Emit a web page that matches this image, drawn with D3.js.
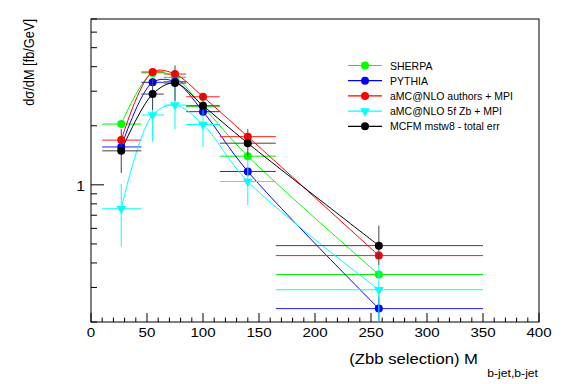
<!DOCTYPE html>
<html><head><meta charset="utf-8">
<script src="https://cdn.jsdelivr.net/npm/d3@7"></script>
<style>body{margin:0;background:#fff}svg{display:block}text{font-family:"Liberation Sans",Arial,Helvetica,sans-serif}</style>
</head><body><svg id="c" width="567" height="384"></svg>
<script>
// ---- data ----
const binCenters = [27, 55, 75, 100, 140, 257];
const binLow     = [10, 45, 65, 85, 115, 165];
const binHigh    = [45, 65, 85, 115, 165, 350];
const seriesNames = ["SHERPA", "PYTHIA", "aMC@NLO authors + MPI", "aMC@NLO 5f Zb + MPI", "MCFM mstw8 - total err"];
const sherpa  = [2.04, 3.72, 3.53, 2.50, 1.40, 0.349];
const pythia  = [1.56, 3.33, 3.35, 2.36, 1.17, 0.234];
const amcAuth = [1.69, 3.76, 3.67, 2.81, 1.76, 0.436];
const amc5f   = [0.755, 2.27, 2.55, 2.03, 1.04, 0.292];
const mcfm    = [1.49, 2.90, 3.30, 2.53, 1.63, 0.49];
const amc5fErrLo = [0.486, 1.66, 1.92, 1.56, 0.79, 0.15];
const amc5fErrHi = [1.01, 3.1, 3.3, 2.6, 1.35, 0.39];
const mcfmErrLo  = [1.15, 2.41, 2.68, 2.25, 1.39, 0.39];
const mcfmErrHi  = [1.92, 3.5, 4.06, 2.85, 1.92, 0.62];
const pythiaErrLo = [null, null, null, null, null, 0.15];
const pythiaErrHi = [null, null, null, null, null, 0.27];
const xTicks = [0, 50, 100, 150, 200, 250, 300, 350, 400];
const yTickLabels = [1];

const colors = ["#00ff00", "#0000ff", "#ff0000", "#00ffff", "#000000"];
const barColors = ["#00ee00", "#2020ff", "#ff2020", "#00ffff", "#444444"];
const values = [sherpa, pythia, amcAuth, amc5f, mcfm];
const errLo = [null, pythiaErrLo, null, amc5fErrLo, mcfmErrLo];
const errHi = [null, pythiaErrHi, null, amc5fErrHi, mcfmErrHi];
const markers = ["circle", "circle", "circle", "tri", "circle"];

const L = 91, R = 539, T = 19, B = 322;
const svg = d3.select("#c");
const x = d3.scaleLinear().domain([0, 400]).range([L, R]);
const y = d3.scaleLog().domain([0.2, 7]).range([B, T]);

svg.append("defs").append("clipPath").attr("id", "clip")
  .append("rect").attr("x", L).attr("y", T).attr("width", R - L).attr("height", B - T);

// x axis ticks
const xa = svg.append("g");
d3.range(0, 401, 10).forEach(v => {
  const major = v % 50 === 0;
  xa.append("line").attr("x1", x(v)).attr("x2", x(v)).attr("y1", B).attr("y2", B - (major ? 9 : 4.5))
    .attr("stroke", "#000").attr("stroke-width", 1);
});
xTicks.forEach(v => {
  xa.append("text").attr("transform", `translate(${x(v)},337) scale(1.12,1)`).attr("text-anchor", "middle")
    .attr("font-size", 13.5).text(v);
});
// y axis ticks
const ya = svg.append("g");
const yMinor = [0.2, 0.3, 0.4, 0.5, 0.6, 0.7, 0.8, 0.9, 1, 2, 3, 4, 5, 6, 7];
yMinor.forEach(v => {
  const major = yTickLabels.includes(v);
  ya.append("line").attr("x1", L).attr("x2", L + (major ? 13 : 6)).attr("y1", y(v)).attr("y2", y(v))
    .attr("stroke", "#000").attr("stroke-width", 1);
});
yTickLabels.forEach(v => {
  ya.append("text").attr("transform", `translate(85,${y(v) + 6}) scale(1.12,1)`).attr("text-anchor", "end")
    .attr("font-size", 14).text(v);
});

// frame
svg.append("rect").attr("x", L).attr("y", T).attr("width", R - L).attr("height", B - T)
  .attr("fill", "none").attr("stroke", "#000").attr("stroke-width", 1);

// titles
svg.append("text").attr("transform", "translate(34,19) scale(1.18,1) rotate(-90)")
  .attr("text-anchor", "end").attr("font-size", 12.8).text("dσ/dM [fb/GeV]");
svg.append("text").attr("transform", "translate(478,364) scale(1.15,1)").attr("text-anchor", "end")
  .attr("font-size", 14.5).text("(Zbb selection) M");
svg.append("text").attr("transform", "translate(538,377) scale(1.15,1)").attr("text-anchor", "end")
  .attr("font-size", 10.6).text("b-jet,b-jet");

// data
const plot = svg.append("g").attr("clip-path", "url(#clip)");
const line = d3.line().x(d => x(d[0])).y(d => y(d[1])).curve(d3.curveCatmullRom.alpha(0.5));
const tri = d3.symbol().type(d3.symbolTriangle).size(40);

values.forEach((vals, s) => {
  const g = plot.append("g");
  const pts = binCenters.map((c, i) => [c, vals[i]]);
  binCenters.forEach((c, i) => {
    g.append("line").attr("x1", x(binLow[i])).attr("x2", x(binHigh[i])).attr("y1", y(vals[i])).attr("y2", y(vals[i]))
      .attr("stroke", barColors[s]).attr("stroke-width", 1);
    if (errLo[s] && errLo[s][i] != null) {
      g.append("line").attr("x1", x(c)).attr("x2", x(c)).attr("y1", y(errLo[s][i])).attr("y2", y(errHi[s][i]))
        .attr("stroke", barColors[s]).attr("stroke-width", 1);
    }
  });
  g.append("path").datum(pts).attr("d", line).attr("fill", "none").attr("stroke", colors[s]).attr("stroke-width", 1);
  pts.forEach(p => {
    if (markers[s] === "tri") {
      g.append("path").attr("d", tri).attr("transform", `translate(${x(p[0])},${y(p[1])}) rotate(180)`).attr("fill", colors[s]);
    } else {
      g.append("circle").attr("cx", x(p[0])).attr("cy", y(p[1])).attr("r", 4).attr("fill", colors[s]);
    }
  });
});

// legend
const lg = svg.append("g");
seriesNames.forEach((n, s) => {
  const yy = 65.5 + s * 15.2;
  lg.append("line").attr("x1", 348).attr("x2", 382).attr("y1", yy).attr("y2", yy).attr("stroke", colors[s]).attr("stroke-width", 1.2);
  if (markers[s] === "tri") {
    lg.append("path").attr("d", tri).attr("transform", `translate(365,${yy}) rotate(180)`).attr("fill", colors[s]);
  } else {
    lg.append("circle").attr("cx", 365).attr("cy", yy).attr("r", 4).attr("fill", colors[s]);
  }
  lg.append("text").attr("x", 390).attr("y", yy + 4).attr("font-size", 10.5).text(n);
});
</script></body></html>
